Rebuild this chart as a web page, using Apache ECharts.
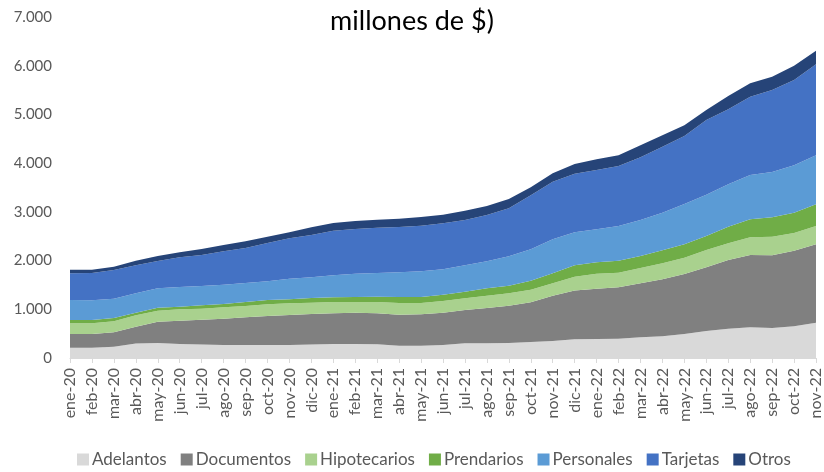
<!DOCTYPE html>
<html lang="es">
<head>
  <meta charset="UTF-8">
  <script src="https://cdn.jsdelivr.net/npm/echarts@6/dist/echarts.min.js"></script>
  <title>Financiaciones</title>
  <style>
    * {margin: 0; padding: 0;}
    html, body { width: 824px; height: 472px; overflow: hidden; background: #fff; }
    #chart { width: 824px; height: 472px; }
  </style>
</head>
<body>
  <div id="chart"></div>
<script>
var months = ['ene-20','feb-20','mar-20','abr-20','may-20','jun-20','jul-20','ago-20','sep-20','oct-20','nov-20','dic-20',
  'ene-21','feb-21','mar-21','abr-21','may-21','jun-21','jul-21','ago-21','sep-21','oct-21','nov-21','dic-21',
  'ene-22','feb-22','mar-22','abr-22','may-22','jun-22','jul-22','ago-22','sep-22','oct-22','nov-22']

var adelantos = [210,210,233,300,308,287,275,268,268,268,268,275,287,287,280,253,253,267,301,301,308,328,349,383,390,397,424,445,493,554,602,630,616,650,725]
var documentos = [283,283,294,343,438,479,512,539,567,594,615,628,633,644,637,637,643,664,684,725,766,815,931,1002,1033,1054,1109,1170,1231,1307,1410,1484,1492,1553,1608]
var hipotecarios = [219,219,226,233,226,233,226,233,233,240,239,233,227,219,233,239,233,239,240,254,254,260,253,285,308,301,315,328,336,356,342,363,383,363,377]
var prendarios = [68,68,68,55,61,55,68,69,82,89,82,96,101,102,109,123,123,130,137,150,157,185,205,232,233,246,246,267,273,287,342,370,397,418,445]
var personales = [411,404,397,397,397,404,397,396,390,383,425,424,449,479,486,507,527,520,540,554,602,643,698,678,677,712,739,774,828,849,869,910,930,971,1006]
var tarjetas = [547,561,589,574,561,609,637,685,718,787,828,869,913,917,931,930,938,944,931,952,985,1108,1184,1200,1218,1231,1287,1354,1396,1533,1540,1608,1684,1752,1867]
var otros = [75,68,68,96,103,102,123,130,137,130,123,157,161,164,164,171,178,178,192,184,192,165,171,200,219,220,246,233,219,205,274,274,273,294,281]

var seriesNames = ['Adelantos','Documentos','Hipotecarios','Prendarios','Personales','Tarjetas','Otros']
var seriesData = [adelantos, documentos, hipotecarios, prendarios, personales, tarjetas, otros]
var colors = ['#d9d9d9','#808080','#a9d18e','#70ad47','#5b9bd5','#4472c4','#264478']

var font = 'Lato, "Open Sans", sans-serif'

var option = {
  animation: false,
  color: colors,
  textStyle: { fontFamily: font },
  title: {
    text: 'millones de $)',
    left: 'center',
    top: 3,
    textStyle: { fontFamily: font, fontWeight: 'normal', fontSize: 27, color: '#000' }
  },
  legend: {
    top: 446,
    left: 72,
    itemWidth: 12,
    itemHeight: 12,
    itemGap: 14,
    icon: 'rect',
    data: seriesNames,
    textStyle: { fontFamily: font, fontSize: 17, color: '#595959', padding: [0, 0, 0, -2] }
  },
  grid: { left: 70, right: 2, top: 17, bottom: 114, containLabel: false },
  xAxis: {
    type: 'category',
    boundaryGap: false,
    data: months,
    axisLine: { lineStyle: { color: '#d9d9d9' } },
    axisTick: { show: true, interval: 0, length: 5, lineStyle: { color: '#d9d9d9' } },
    axisLabel: { interval: 0, rotate: 90, fontSize: 16, color: '#595959', margin: 10, fontFamily: font }
  },
  yAxis: {
    type: 'value',
    min: 0,
    max: 7000,
    interval: 1000,
    splitLine: { show: false },
    axisLine: { show: false },
    axisTick: { show: false },
    axisLabel: {
      fontSize: 15,
      color: '#595959',
      margin: 18,
      fontFamily: font,
      formatter: function (v) { return v === 0 ? '0' : String(v / 1000) + '.000' }
    }
  },
  series: seriesNames.map(function (name, i) {
    return {
      name: name,
      type: 'line',
      stack: 'total',
      data: seriesData[i],
      symbol: 'none',
      lineStyle: { width: 0 },
      areaStyle: { color: colors[i], opacity: 1 }
    }
  })
}

var chart = echarts.init(document.getElementById('chart'))
chart.setOption(option)
</script>
</body>
</html>
